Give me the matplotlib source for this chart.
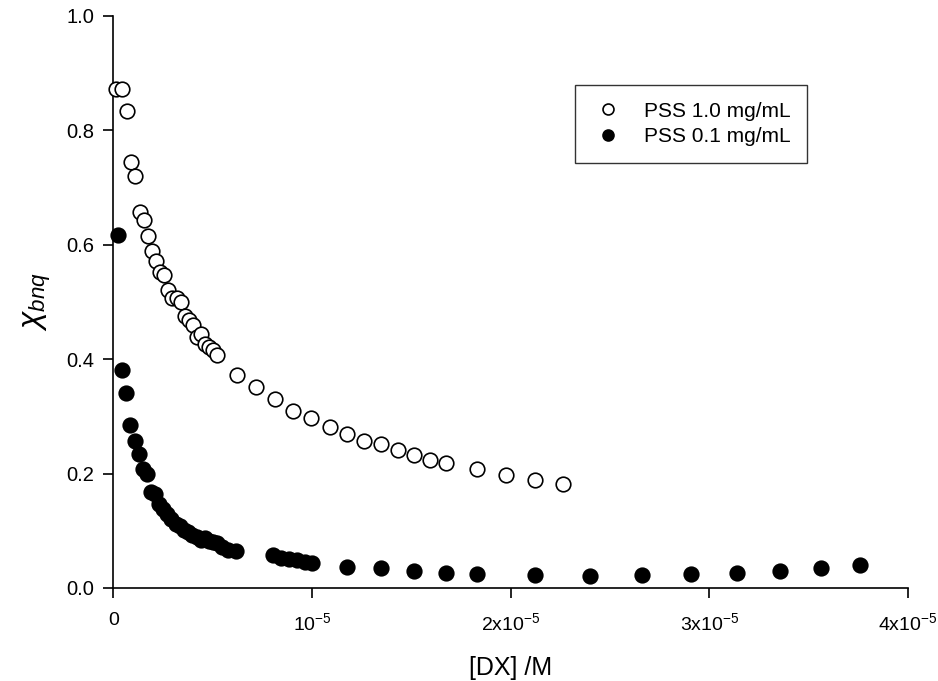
import matplotlib
matplotlib.use("Agg")
import matplotlib.pyplot as plt
import numpy as np

plt.rcParams["font.family"] = ["Liberation Sans", "DejaVu Sans"]
plt.rcParams["mathtext.fontset"] = "custom"
plt.rcParams["mathtext.rm"] = "Liberation Sans"
plt.rcParams["mathtext.it"] = "Liberation Sans:italic"
plt.rcParams["mathtext.cal"] = "Liberation Sans:italic"

# PSS 1.0 mg/mL
dx_hi = [0.013, 0.043, 0.068, 0.088, 0.108, 0.133, 0.154, 0.174, 0.194, 0.214,
         0.234, 0.254, 0.274, 0.295, 0.320, 0.340, 0.360, 0.380, 0.400, 0.420,
         0.440, 0.461, 0.481, 0.501, 0.521, 0.622, 0.718, 0.813, 0.904, 0.995,
         1.090, 1.176, 1.260, 1.347, 1.430, 1.513, 1.594, 1.674, 1.830, 1.977,
         2.120, 2.264]
chi_hi = [0.872, 0.872, 0.834, 0.745, 0.720, 0.657, 0.643, 0.615, 0.589, 0.572,
          0.552, 0.547, 0.521, 0.507, 0.507, 0.500, 0.476, 0.469, 0.460, 0.439,
          0.444, 0.427, 0.421, 0.416, 0.407, 0.372, 0.351, 0.330, 0.309, 0.297,
          0.281, 0.269, 0.257, 0.252, 0.241, 0.233, 0.224, 0.219, 0.208, 0.198,
          0.189, 0.182]

# PSS 0.1 mg/mL
dx_lo = [0.023, 0.043, 0.063, 0.083, 0.108, 0.128, 0.149, 0.169, 0.189, 0.209,
         0.229, 0.249, 0.269, 0.290, 0.315, 0.335, 0.355, 0.375, 0.395, 0.420,
         0.441, 0.461, 0.481, 0.501, 0.521, 0.546, 0.576, 0.617, 0.803, 0.843,
         0.884, 0.924, 0.964, 1.000, 1.176, 1.347, 1.513, 1.674, 1.830, 2.120,
         2.400, 2.660, 2.910, 3.140, 3.356, 3.560, 3.760]
chi_lo = [0.617, 0.381, 0.341, 0.285, 0.257, 0.234, 0.208, 0.199, 0.168, 0.164,
          0.147, 0.138, 0.129, 0.121, 0.112, 0.108, 0.101, 0.098, 0.093, 0.089,
          0.084, 0.087, 0.082, 0.080, 0.079, 0.072, 0.066, 0.065, 0.058, 0.052,
          0.051, 0.049, 0.045, 0.044, 0.037, 0.035, 0.030, 0.026, 0.024, 0.023,
          0.021, 0.023, 0.024, 0.026, 0.030, 0.035, 0.040]

x_ticks = [0, 1e-5, 2e-5, 3e-5, 4e-5]
x_tick_labels = ["0", r"10$^{-5}$", r"2x10$^{-5}$", r"3x10$^{-5}$", r"4x10$^{-5}$"]
y_ticks = [0.0, 0.2, 0.4, 0.6, 0.8, 1.0]

fig = plt.figure(figsize=(9.38, 6.81), dpi=100)
ax = fig.add_axes([0.121, 0.1366, 0.847, 0.84])

ms = 10.5
ax.plot(np.array(dx_hi) * 1e-5, chi_hi, "o", ms=ms, mfc="white", mec="black",
        mew=1.2, label="PSS 1.0 mg/mL", clip_on=False, zorder=3)
ax.plot(np.array(dx_lo) * 1e-5, chi_lo, "o", ms=ms, mfc="black", mec="black",
        mew=1.2, label="PSS 0.1 mg/mL", clip_on=False, zorder=3)

ax.set_xlim(0, 4e-5)
ax.set_ylim(0, 1.0)
ax.set_xticks(x_ticks)
ax.set_xticklabels(x_tick_labels)
ax.set_yticks(y_ticks)
ax.set_yticklabels([f"{v:.1f}" for v in y_ticks])

for side in ("top", "right"):
    ax.spines[side].set_visible(False)
for side in ("left", "bottom"):
    ax.spines[side].set_linewidth(1.2)
ax.tick_params(direction="out", length=7.2, width=1.2)
ax.tick_params(axis="x", labelsize=14, pad=10)
ax.tick_params(axis="y", labelsize=14.5, pad=6.5)

ax.set_xlabel("[DX] /M", fontsize=18, labelpad=16)
ax.set_ylabel(r"$\chi_{bnq}$", fontsize=23, labelpad=10)

leg = ax.legend(loc="upper left", bbox_to_anchor=(575 / 938, 1 - 85 / 681),
                bbox_transform=fig.transFigure, fontsize=15, markerscale=0.75,
                frameon=True, fancybox=False, borderpad=0.8, borderaxespad=0,
                handletextpad=0.9, labelspacing=0.3, handlelength=1.6)
leg.get_frame().set_edgecolor("black")
leg.get_frame().set_linewidth(1.0)

fig.savefig("out.png", dpi=100)
